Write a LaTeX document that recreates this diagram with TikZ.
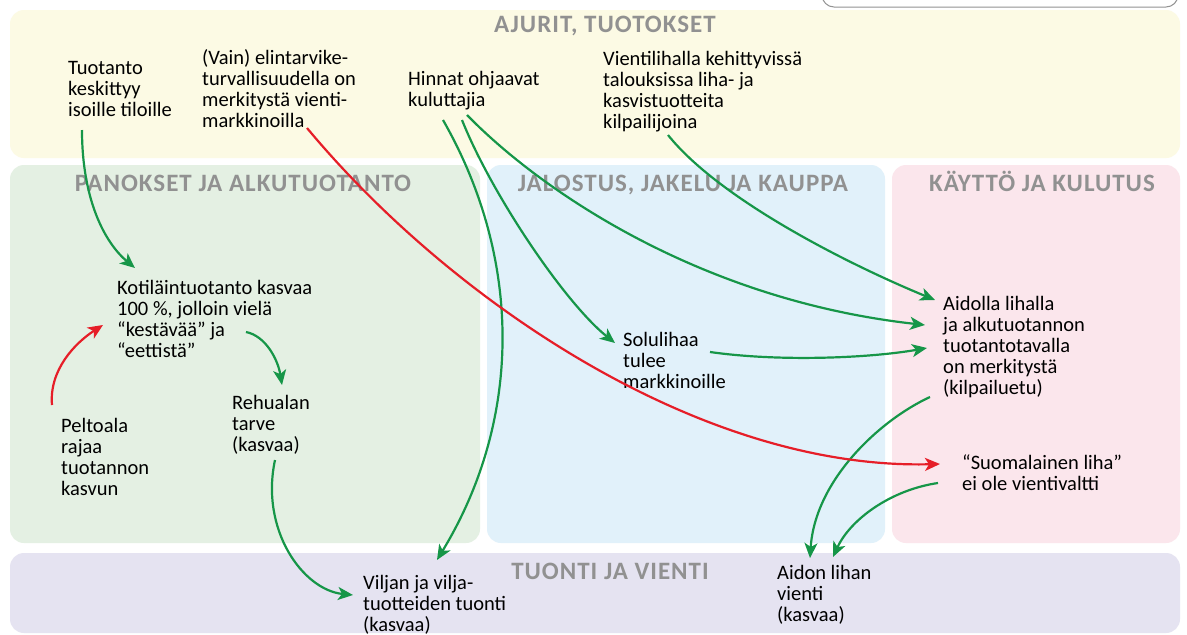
\documentclass[tikz,border=0pt]{standalone}
\usepackage{fontspec}
\setmainfont{Carlito}
\usetikzlibrary{arrows.meta}

\definecolor{bandyellow}{RGB}{252,250,228}
\definecolor{bandgreen}{RGB}{228,240,227}
\definecolor{bandblue}{RGB}{225,241,250}
\definecolor{bandpink}{RGB}{251,230,236}
\definecolor{bandlilac}{RGB}{229,227,241}
\definecolor{linkgreen}{RGB}{22,150,72}
\definecolor{linkred}{RGB}{230,30,40}
\definecolor{headgray}{RGB}{145,145,145}

% left-aligned lines whose baseline is that of the first line
\newcommand\textlines[1]{\begin{tabular}[t]{@{}l@{}}#1\end{tabular}}

\tikzset{
  band/.style={rounded corners=14pt},
  heading/.style={font=\fontsize{25}{27}\selectfont\bfseries\addfontfeature{LetterSpace=4},
    text=headgray, anchor=base, inner sep=0pt},
  txt/.style={font=\fontsize{20.5}{21}\selectfont, anchor=base west, inner sep=0pt},
  greenlink/.style={draw=linkgreen, line width=2.2pt, -{Stealth[length=15pt,width=13pt,inset=4pt]}},
  redlink/.style={greenlink, draw=linkred},
}

\begin{document}
\begin{tikzpicture}[x=1pt,y=-1pt]
\clip (0,0) rectangle (1187,635);
\fill[white] (0,0) rectangle (1187,635);

% background bands
\fill[band, bandyellow] (10,10) rectangle (1180,158);
\fill[band, bandgreen]  (10,165) rectangle (480,543);
\fill[band, bandblue]   (487,165) rectangle (885,543);
\fill[band, bandpink]   (892,165) rectangle (1180,543);
\fill[band, bandlilac]  (10,553) rectangle (1180,633);

% frame at the top right edge
\draw[gray!85, line width=1pt, rounded corners=12pt] (822,-30) rectangle (1178,7);

% band headings
\node[heading] (hAjurit) at (605,32) {AJURIT, TUOTOKSET};
\node[heading] (hPanos)  at (243,191) {PANOKSET JA ALKUTUOTANTO};
\node[heading] (hJalos)  at (683,191) {JALOSTUS, JAKELU JA KAUPPA};
\node[heading] (hKaytto) at (1042,191) {KÄYTTÖ JA KULUTUS};
\node[heading] (hTuonti) at (610,579) {TUONTI JA VIENTI};

% statements
\node[txt] (tuot)   at (68,74)   {\textlines{Tuotanto\\keskittyy\\isoille tiloille}};
\node[txt] (vain)   at (202,64)  {\textlines{(Vain) elintarvike-\\turvallisuudella on\\merkitystä vienti-\\markkinoilla}};
\node[txt] (hinnat) at (408,85)  {\textlines{Hinnat ohjaavat\\kuluttajia}};
\node[txt] (vienti) at (603,65)  {\textlines{Vientilihalla kehittyvissä\\talouksissa liha- ja\\kasvistuotteita\\kilpailijoina}};
\node[txt] (koti)   at (117,294) {\textlines{Kotiläintuotanto kasvaa\\100 \%, jolloin vielä\\“kestävää” ja\\“eettistä”}};
\node[txt] (pelto)  at (61,432)  {\textlines{Peltoala\\rajaa\\tuotannon\\kasvun}};
\node[txt] (rehu)   at (232,409) {\textlines{Rehualan\\tarve\\(kasvaa)}};
\node[txt] (solu)   at (623,346) {\textlines{Solulihaa\\tulee\\markkinoille}};
\node[txt] (aito)   at (943,310) {\textlines{Aidolla lihalla\\ja alkutuotannon\\tuotantotavalla\\on merkitystä\\(kilpailuetu)}};
\node[txt] (suomi)  at (962,469) {\textlines{“Suomalainen liha”\\ei ole vientivaltti}};
\node[txt] (viljan) at (363,589) {\textlines{Viljan ja vilja-\\tuotteiden tuonti\\(kasvaa)}};
\node[txt] (aidon)  at (777,579) {\textlines{Aidon lihan\\vienti\\(kasvaa)}};

% connectors
\draw[greenlink] ([shift={(14,56)}]tuot.base west)
  .. controls +(0,70) and +(-30,-25) .. ([shift={(18,-26)}]koti.base west);
\draw[redlink] ([shift={(-9,-27)}]pelto.base west)
  .. controls +(-3,-35) and +(-28,18) .. ([shift={(-14,31)}]koti.base west);
\draw[greenlink] ([shift={(129,38)}]koti.base west)
  .. controls +(20,4) and +(-4,-25) .. ([shift={(50,-24)}]rehu.base west);
\draw[greenlink] ([shift={(43,51)}]rehu.base west)
  .. controls +(-15,70) and +(-50,-5) .. ([shift={(-10,6)}]viljan.base west);
\draw[greenlink] ([shift={(35,35)}]hinnat.base west)
  .. controls +(80,140) and +(85,-140) .. ([shift={(74,-29)}]viljan.base west);
\draw[greenlink] ([shift={(54,35)}]hinnat.base west)
  .. controls +(30,75) and +(-50,-40) .. ([shift={(-8,-3)}]solu.base west);
\draw[greenlink] ([shift={(59,30)}]hinnat.base west)
  .. controls +(73,75) and +(-225,-25) .. ([shift={(-18,15)}]aito.base west);
\draw[greenlink] ([shift={(65,70)}]vienti.base west)
  .. controls +(52,65) and +(-85,-35) .. ([shift={(-8,-10)}]aito.base west);
\draw[greenlink] ([shift={(87,6)}]solu.base west)
  .. controls +(70,10) and +(-57,10) .. ([shift={(-16,38)}]aito.base west);
\draw[greenlink] ([shift={(-13,87)}]aito.base west)
  .. controls +(-50,23) and +(5,-78) .. ([shift={(33,-21)}]aidon.base west);
\draw[greenlink] ([shift={(-24,14)}]suomi.base west)
  .. controls +(-48,7) and +(17,-37) .. ([shift={(56,-22)}]aidon.base west);
\draw[redlink] ([shift={(105,64)}]vain.base west)
  .. controls +(143,172) and +(-240,6) .. ([shift={(-22,-5)}]suomi.base west);
\end{tikzpicture}
\end{document}
